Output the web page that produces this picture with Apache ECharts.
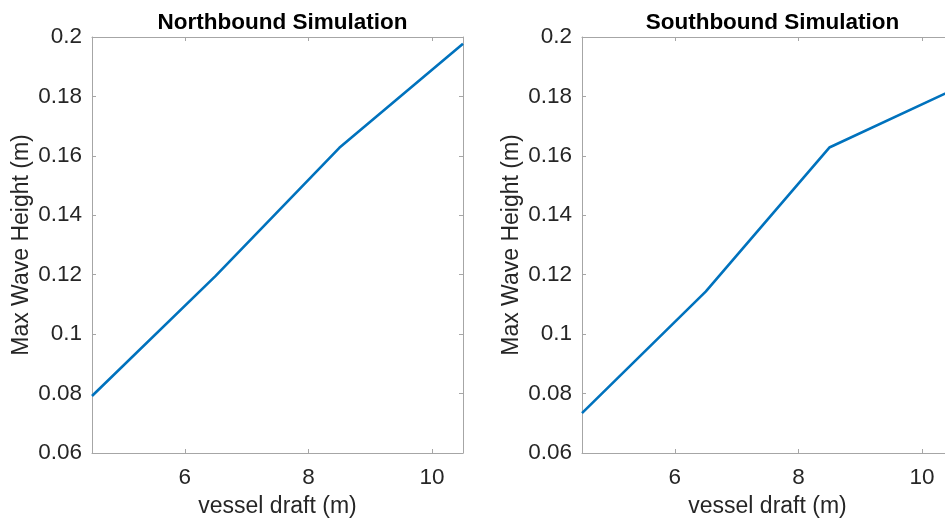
<!DOCTYPE html>
<html>
<head>
<meta charset="utf-8">
<script src="https://cdn.jsdelivr.net/npm/echarts@6/dist/echarts.min.js"></script>
<style>html,body{margin:0;padding:0;background:#fff}#c{width:945px;height:523px}</style>
</head>
<body>
<div id="c"></div>
<script>
const draftValues = [4.5, 6.5, 8.5, 10.5];
const northHeights = [0.0792, 0.1196, 0.1627, 0.1977];
const southHeights = [0.0734, 0.1143, 0.1628, 0.1822];
const xTicks = [6, 8, 10];
const yTicks = [0.06, 0.08, 0.1, 0.12, 0.14, 0.16, 0.18, 0.2];
const titles = ['Northbound Simulation', 'Southbound Simulation'];
const xName = 'vessel draft (m)';
const yName = 'Max Wave Height (m)';

const FONT = '"Liberation Sans", Arial, Helvetica, sans-serif';
const AX = '#a6a6a6';
const TXT = '#262626';
const grids = [
  {left: 92, top: 37, width: 371, height: 416, outerBoundsMode: 'none', containLabel: false},
  {left: 582, top: 37, width: 371, height: 416, outerBoundsMode: 'none', containLabel: false}
];

const xAxes = [], yAxes = [], series = [], title = [];
const datasets = [northHeights, southHeights];
grids.forEach((g, i) => {
  title.push({text: titles[i], left: g.left + g.width / 2, top: 6, textAlign: 'center',
    textStyle: {fontFamily: FONT, fontSize: 22.5, fontWeight: 'bold', color: '#000'}});
  xAxes.push({type: 'value', gridIndex: i, min: 4.5, max: 10.5, position: 'bottom',
    name: xName, nameLocation: 'middle', nameGap: 42,
    nameTextStyle: {fontFamily: FONT, fontSize: 23, color: TXT},
    axisLine: {show: true, onZero: false, lineStyle: {color: AX, width: 1}},
    axisTick: {show: true, inside: true, length: 4, customValues: xTicks, lineStyle: {color: AX}},
    axisLabel: {customValues: xTicks, margin: 13, fontFamily: FONT, fontSize: 22.5, color: TXT},
    splitLine: {show: false}});
  xAxes.push({type: 'value', gridIndex: i, min: 4.5, max: 10.5, position: 'top',
    axisLine: {show: true, onZero: false, lineStyle: {color: AX, width: 1}},
    axisTick: {show: true, inside: true, length: 4, customValues: xTicks, lineStyle: {color: AX}},
    axisLabel: {show: false}, splitLine: {show: false}});
  yAxes.push({type: 'value', gridIndex: i, min: 0.06, max: 0.2, position: 'left',
    name: yName, nameLocation: 'middle', nameGap: 59, nameRotate: 90,
    nameTextStyle: {fontFamily: FONT, fontSize: 23, color: TXT},
    axisLine: {show: true, onZero: false, lineStyle: {color: AX, width: 1}},
    axisTick: {show: true, inside: true, length: 4, customValues: yTicks, lineStyle: {color: AX}},
    axisLabel: {customValues: yTicks, margin: 10, fontFamily: FONT, fontSize: 22.5, color: TXT,
      formatter: v => String(+v.toFixed(4))},
    splitLine: {show: false}});
  yAxes.push({type: 'value', gridIndex: i, min: 0.06, max: 0.2, position: 'right',
    axisLine: {show: true, onZero: false, lineStyle: {color: AX, width: 1}},
    axisTick: {show: true, inside: true, length: 4, customValues: yTicks, lineStyle: {color: AX}},
    axisLabel: {show: false}, splitLine: {show: false}});
  series.push({type: 'line', xAxisIndex: i * 2, yAxisIndex: i * 2,
    data: draftValues.map((x, k) => [x, datasets[i][k]]),
    showSymbol: false, symbol: 'none', clip: true,
    lineStyle: {color: '#0072BD', width: 2.6}, animation: false});
});

const chart = echarts.init(document.getElementById('c'), null, {renderer: 'canvas'});
chart.setOption({animation: false, backgroundColor: '#fff', title, grid: grids,
  xAxis: xAxes, yAxis: yAxes, series});
</script>
</body>
</html>
